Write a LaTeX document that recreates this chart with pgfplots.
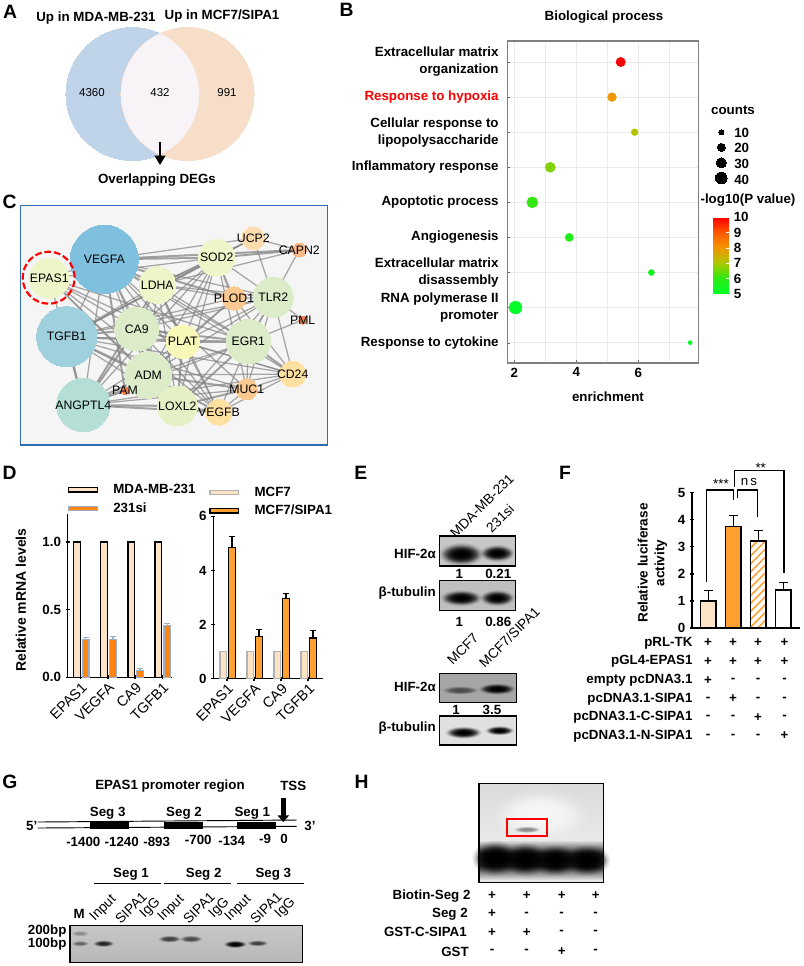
\documentclass[border=0pt]{standalone}
\usepackage{fontspec}
\setmainfont{Liberation Sans}
\usepackage{pgfplots}
\pgfplotsset{compat=1.18}
\usetikzlibrary{arrows.meta,fadings,patterns.meta}

\definecolor{vennblue}{HTML}{BFD3E9}
\definecolor{vennpeach}{HTML}{F6DEC8}
\definecolor{vennmid}{HTML}{F7F3F6}
\definecolor{framec}{HTML}{2E6DB4}
\definecolor{pale}{HTML}{FDE3C6}
\definecolor{orng}{HTML}{FF8410}
\definecolor{orng2}{HTML}{FFA030}
\definecolor{bluegray}{HTML}{9DB0C8}
\definecolor{nVEGFA}{HTML}{7FC0DE}
\definecolor{nTGF}{HTML}{9FD0DE}
\definecolor{nANG}{HTML}{B5DFD6}
\definecolor{nY}{HTML}{EEF5C8}
\definecolor{nG}{HTML}{DCEBC8}
\definecolor{nX}{HTML}{E5F0C5}
\definecolor{nP}{HTML}{F7F7B8}
\definecolor{nU}{HTML}{FDDDB0}
\definecolor{nN}{HTML}{F8B888}
\definecolor{nO}{HTML}{FBC890}
\definecolor{nS}{HTML}{F08050}
\definecolor{nK}{HTML}{FEE0A0}

\newcommand\fb{\fontsize{10}{12.7}\selectfont\bfseries}
\newcommand\fr{\fontsize{10}{12.7}\selectfont}
\newcommand\fn{\fontsize{9.2}{11}\selectfont}
% text helpers, canvas pixels
\newcommand\tb[3]{\node[font=\fb,inner sep=0pt] at (axis cs:#1,#2) {#3};}
\newcommand\te[3]{\node[font=\fb,inner sep=0pt,anchor=east] at (axis cs:#1,#2) {#3};}
\newcommand\tl[3]{\node[font=\fb,inner sep=0pt,anchor=west] at (axis cs:#1,#2) {#3};}
\newcommand\letter[3]{\node[font=\fontsize{14.5}{16}\selectfont\bfseries,inner sep=0pt] at (axis cs:#1,#2) {#3};}
\newcommand\rot[3]{\node[font=\fontsize{10.3}{12}\selectfont,inner sep=0pt,rotate=45,anchor=south west] at (axis cs:#1,#2) {#3};}
% blots
\tikzfading[name=fz,inner color=transparent!0,outer color=transparent!100]
\newcommand\blot[5]{\fill[#5] (axis cs:#1,#2) rectangle (axis cs:#3,#4);}
\newcommand\blotframe[4]{\draw[black,line width=1pt] (axis cs:#1,#2) rectangle (axis cs:#3,#4);}
\newcommand\band[5]{%
  \fill[#5,path fading=fz] (axis cs:#1,#2) ellipse[x radius=#3*0.75pt,y radius=#4*0.75pt];
  \fill[#5,path fading=fz] (axis cs:#1,#2) ellipse[x radius=#3*0.66pt,y radius=#4*0.6pt];
  \fill[#5,path fading=fz] (axis cs:#1,#2) ellipse[x radius=#3*0.6pt,y radius=#4*0.5pt];}
\newcommand\keydot[3]{\addplot[only marks,mark=*,mark size=#3,mark options={fill=black,draw=black,line width=0pt}] coordinates {(#1,#2)};}

\def\nodelist{V/VEGFA/104.3/259.3/34/nVEGFA,E/EPAS1/49.3/278.3/20/nY,T/TGFB1/66.7/336.7/30/nTGF,A/ANGPTL4/83.3/405/26.7/nANG,L/LDHA/157.3/285/18.3/nY,C/CA9/136.7/329/22/nG,D/ADM/148.3/375/23.3/nG,Z/PAM/125/390.7/4/nS,X/LOXL2/177.3/406/20/nX,P/PLAT/182.7/341.7/16.7/nP,G/EGR1/248.3/341.7/22.3/nG,S/SOD2/216.7/257.7/18.3/nY,U/UCP2/253.3/238.3/11.5/nU,N/CAPN2/299.3/250/7/nN,R/TLR2/273.3/297.3/20/nG,O/PLOD1/234/298.3/11.7/nO,M/PML/302.7/320/4/nS,K/CD24/292.7/374/13/nK,Q/MUC1/246.7/389.3/10.5/nO,B/VEGFB/219/412.3/13/nK}
\foreach \k/\n/\x/\y/\r/\c in \nodelist {\expandafter\xdef\csname nd\k\endcsname{\x,\y}}

\pgfplotstableread{
x y logp d
5.43 8 10 9.3
5.15 7 8 8.7
5.88 6 7.1 6.7
3.16 5 6.7 10
2.58 4 6.1 11
3.77 3 5.8 8
6.42 2 5.4 6
2.04 1 5.1 12.7
7.67 0 5.0 4
}\bubbles

\pgfplotsset{canvas/.style={at={(0pt,0pt)},anchor=north west,scale only axis,width=602.25pt,height=724.5pt,
    xmin=0,xmax=803,ymin=0,ymax=966,y dir=reverse,hide axis,clip=false},
  barpanel/.style={scale only axis,axis lines=left,axis line style={-,line width=1pt},
  tick style={black,line width=1pt},major tick length=3pt,ymin=0,
  tick label style={font=\fb,/pgf/number format/assume math mode=true},
  legend image code/.code={\draw[##1] (0pt,-1.6pt) rectangle (21.5pt,1.6pt);},
  legend cell align=left,
  legend style={draw=none,fill=none,font=\fb,inner sep=0pt,row sep=1.2pt,
     /tikz/every even column/.append style={column sep=0pt}}},
  fbar/.style={ybar,bar width=11.5pt,bar shift=0pt,draw=black,line width=1pt,
    error bars/y dir=plus,error bars/y explicit,error bars/error bar style={black,line width=1pt},
    error bars/error mark options={rotate=90,mark size=3.4pt,black,line width=0.8pt}}}

\begin{document}
\begin{tikzpicture}
\path[use as bounding box] (0pt,0pt) rectangle (602.25pt,-724.5pt);

% lower canvas in reference pixels: venn circles, network
\begin{axis}[canvas]
\addplot[only marks,mark=*,mark size=49.9pt,mark options={fill=vennblue,draw=vennblue,line width=0pt}] coordinates {(132.5,94)};
\addplot[only marks,mark=*,mark size=49.9pt,mark options={fill=vennpeach,draw=vennpeach,line width=0pt}] coordinates {(187.5,94)};
\fill[black!4] (axis cs:20.7,205.7) rectangle (axis cs:327.7,445);
\foreach \a/\b in {V/E,V/T,V/A,V/C,V/D,V/X,V/P,V/G,V/U,V/R,V/K,V/Q,V/B,E/S,E/A,E/C,E/D,E/X,E/P,E/G,E/B,T/L,T/X,T/G,T/U,T/R,T/K,T/Q,T/B,T/O,A/P,A/G,A/S,A/Q,A/K,L/U,L/N,L/R,L/O,L/D,L/X,L/G,L/B,C/R,C/S,C/X,C/B,C/K,D/G,D/R,D/S,D/O,D/K,D/B,X/R,P/R,P/S,P/B,P/O,P/K,G/S,G/Q,G/B,S/U,S/R,S/O,S/Q,S/X,R/U,R/N,R/M,R/K,R/Q,R/O,U/N,O/K,G/M,K/Q,K/B,Q/B}
 {\edef\tmp{\noexpand\addplot[black!48,opacity=0.7,line width=0.95pt] coordinates {(\csname nd\a\endcsname) (\csname nd\b\endcsname)};}\tmp}
\foreach \a/\b in {V/L,V/S,V/N,V/O,T/A,T/C,T/D,T/P,T/S,A/C,A/D,A/X,A/B,A/L,L/S,L/C,L/P,C/D,C/P,C/G,D/P,D/X,D/Q,X/P,X/G,X/Q,X/B,P/G,G/R,G/K,S/N,Z/A,Z/V}
 {\edef\tmp{\noexpand\addplot[black!48,opacity=0.75,line width=1.5pt] coordinates {(\csname nd\a\endcsname) (\csname nd\b\endcsname)};}\tmp}
\foreach \k/\n/\x/\y/\r/\c in \nodelist
 {\pgfmathsetmacro\ms{\r*0.75}\edef\tmp{\noexpand\addplot[only marks,mark=*,mark size=\ms pt,mark options={fill=\c,draw=\c,line width=0pt}] coordinates {(\x,\y)};}\tmp}
\end{axis}

% upper canvas: overlap, texts, blots, schematic
\begin{axis}[canvas]
% A
\letter{10}{12}{A}
\begin{scope}
\clip (axis cs:132.5,94) circle[radius=49.9pt];
\fill[vennmid] (axis cs:187.5,94) circle[radius=49.9pt];
\end{scope}
\tb{96}{18}{Up in MDA-MB-231}
\tb{222}{16}{Up in MCF7/SIPA1}
\node[font=\fontsize{8.6}{10}\selectfont] at (axis cs:92,93) {4360};
\node[font=\fontsize{8.6}{10}\selectfont] at (axis cs:160,93) {432};
\node[font=\fontsize{8.6}{10}\selectfont] at (axis cs:227,93) {991};
\draw[-{Triangle[length=7pt,width=8pt]},line width=1.6pt] (axis cs:160,142) -- (axis cs:160,165);
\tb{157}{180}{Overlapping DEGs}

% B labels beside the axis
\letter{346.7}{10}{B}
\tb{733}{110}{counts}
\keydot{721.3}{132.3}{1.8pt}
\keydot{721.3}{147.3}{3pt}
\keydot{721.3}{162.7}{3.8pt}
\keydot{721.3}{178}{4.4pt}
\tl{734}{132.5}{10}
\tl{734}{148}{20}
\tl{734}{164}{30}
\tl{734}{180}{40}
\tb{748}{200}{-log10(P value)}

% C
\letter{9.5}{202}{C}
\foreach \k/\n/\x/\y/\r/\c in \nodelist
 {\edef\tmp{\noexpand\node[font=\noexpand\fn,inner sep=0pt] at (axis cs:\x,\y) {\n};}\tmp}
\draw[framec,line width=1pt] (axis cs:20.7,205.7) rectangle (axis cs:327.7,445);
\draw[red,dash pattern=on 5pt off 2.2pt,line width=1.6pt] (axis cs:48.7,277.7) circle[radius=19.5pt];

% D
\letter{9.5}{473}{D}

% E
\letter{360.7}{473}{E}
\rot{456}{539}{MDA-MB-231}
\rot{492}{534}{231si}
\te{436}{553.7}{HIF-2α}
\blot{439.3}{536}{515.7}{566}{black!22}
\band{461}{554}{23}{12}{black}
\band{497}{553}{18}{9}{black}
\blotframe{439.3}{536}{515.7}{566}
\tb{459.3}{574}{1}
\tb{498.3}{574}{0.21}
\te{436}{593}{β-tubulin}
\blot{439.3}{580.7}{515.7}{610.7}{black!25}
\band{461}{597.7}{21.5}{8.5}{black}
\band{497}{597.7}{18}{8.5}{black}
\blotframe{439.3}{580.7}{515.7}{610.7}
\tb{459.3}{621.7}{1}
\tb{498.3}{621.7}{0.86}
\rot{453}{666}{MCF7}
\rot{485}{669}{MCF7/SIPA1}
\te{436}{686.7}{HIF-2α}
\blot{439.3}{673.3}{516.7}{702.7}{black!35}
\band{460}{690}{19}{4.5}{black!70}
\band{496.7}{688.7}{19}{6}{black}
\blotframe{439.3}{673.3}{516.7}{702.7}
\tb{456}{710}{1}
\tb{492}{710}{3.5}
\te{436}{727.7}{β-tubulin}
\blot{439.3}{716}{516.7}{745}{black!12}
\band{463.3}{732.3}{19}{6.5}{black}
\band{499.3}{730.3}{15}{5}{black}
\blotframe{439.3}{716}{516.7}{745}

% F labels
\letter{565}{473}{F}
\addplot[black,line width=1pt] coordinates {(706.7,581.7) (706.7,490) (733.3,490) (733.3,500)};
\addplot[black,line width=1pt] coordinates {(737.3,498.3) (737.3,490) (757.7,490) (757.7,516.7)};
\addplot[black,line width=1pt] coordinates {(734.3,486.7) (734.3,470.7) (784,470.7) (784,573.3)};
\node[font=\fr,inner sep=0pt] at (axis cs:721,483.5) {***};
\node[font=\fr,inner sep=0pt] at (axis cs:749,482) {n\,s};
\node[font=\fr,inner sep=0pt] at (axis cs:760.7,467.5) {**};
\newcommand\row[6]{\te{692.7}{#1}{#2}\tb{708}{#1}{#3}\tb{733}{#1}{#4}\tb{758}{#1}{#5}\tb{784.5}{#1}{#6}}
\row{643}{pRL-TK}{+}{+}{+}{+}
\row{661.3}{pGL4-EPAS1}{+}{+}{+}{+}
\row{680.3}{empty pcDNA3.1}{+}{-}{-}{-}
\row{699}{pcDNA3.1-SIPA1}{-}{+}{-}{-}
\row{717.3}{pcDNA3.1-C-SIPA1}{-}{-}{+}{-}
\row{736}{pcDNA3.1-N-SIPA1}{-}{-}{-}{+}

% G
\letter{10}{781.7}{G}
\tb{170}{786}{EPAS1 promoter region}
\tb{293.3}{786}{TSS}
\tb{107.7}{813}{Seg 3}
\tb{184}{813}{Seg 2}
\tb{252.3}{813}{Seg 1}
\addplot[black,line width=0.7pt] coordinates {(37.7,822) (296.7,820)};
\addplot[black,line width=0.7pt] coordinates {(37.7,828) (296.7,826.3)};
\fill[black] (axis cs:90,821.7) rectangle (axis cs:129,829);
\fill[black] (axis cs:164,821.7) rectangle (axis cs:203,829);
\fill[black] (axis cs:237,821.7) rectangle (axis cs:276,829);
\draw[-{Triangle[length=5pt,width=8.5pt]},line width=3.4pt] (axis cs:283.3,798) -- (axis cs:283.3,822);
\tb{31.7}{825.7}{5’}
\tb{310}{825.7}{3’}
\tb{83.3}{841.7}{-1400}
\tb{121.7}{841.7}{-1240}
\tb{156.7}{841.7}{-893}
\tb{198.3}{840}{-700}
\tb{231.7}{841}{-134}
\tb{265}{839}{-9}
\tb{284}{839}{0}
\tb{131}{874.7}{Seg 1}
\tb{203.7}{874.7}{Seg 2}
\tb{273.3}{874.7}{Seg 3}
\addplot[black,line width=0.7pt] coordinates {(94.3,883) (160.7,883)};
\addplot[black,line width=0.7pt] coordinates {(164.3,883) (230.7,883)};
\addplot[black,line width=0.7pt] coordinates {(237,883) (303.7,883)};
\tb{79.3}{914.3}{M}
\rot{97}{924}{Input}
\rot{121}{925}{SIPA1}
\rot{147}{921}{IgG}
\rot{165}{924}{Input}
\rot{189}{925}{SIPA1}
\rot{216}{921}{IgG}
\rot{232}{924}{Input}
\rot{256}{925}{SIPA1}
\rot{282}{921}{IgG}
\te{66.7}{930.7}{200bp}
\te{66.7}{944.3}{100bp}
\shade[top color=black!22,bottom color=black!28] (axis cs:70,925.3) rectangle (axis cs:302.7,962.3);
\band{80}{933.3}{9}{3}{black!45}
\band{80}{943.3}{9}{3}{black!60}
\band{103.3}{943.3}{11}{3.6}{black!85}
\band{169.3}{938.7}{12}{3.8}{black!75}
\band{190.7}{938.7}{12}{3.8}{black!70}
\band{235}{944}{12}{4}{black}
\band{257.3}{943}{11}{3.2}{black!75}
\blotframe{70}{925.3}{302.7}{962.3}

% H
\letter{361.7}{781.7}{H}
\shade[top color=black!14,bottom color=black!9] (axis cs:479,783.7) rectangle (axis cs:603.3,840);
\fill[black!9] (axis cs:479,840) rectangle (axis cs:603.3,882.3);
\band{540}{815}{50}{28}{black!3}
\shade[top color=black!9,bottom color=black!80] (axis cs:480,840) rectangle (axis cs:602.5,853);
\fill[black!80] (axis cs:480,853) rectangle (axis cs:602.5,866);
\shade[top color=black!80,bottom color=black!10] (axis cs:480,866) rectangle (axis cs:602.5,880);
\band{495}{858}{24}{18}{black}
\band{525}{859}{24}{17}{black}
\band{555}{860}{24}{16}{black}
\band{586.7}{860}{24}{16}{black}
\band{526.7}{829.3}{14}{3.5}{black!45}
\blotframe{479}{783.7}{603.3}{882.3}
\draw[red,line width=1.3pt] (axis cs:506.7,819.3) rectangle (axis cs:546.7,836.3);
\newcommand\rowh[7]{\te{#2}{#1}{#3}\tb{492}{#1}{#4}\tb{526.7}{#1}{#5}\tb{561.7}{#1}{#6}\tb{595.7}{#1}{#7}}
\rowh{896}{470.7}{Biotin-Seg 2}{+}{+}{+}{+}
\rowh{914}{468}{Seg 2}{+}{-}{-}{-}
\rowh{932.3}{467}{GST-C-SIPA1}{+}{+}{-}{-}
\rowh{951.5}{469}{GST}{-}{-}{+}{-}
\end{axis}

% B bubble plot
\begin{axis}[at={(380.5pt,-272.25pt)},anchor=south west,scale only axis,width=143.25pt,height=241.5pt,
  xmin=1.774,xmax=7.935,ymin=-0.58,ymax=8.6,
  axis line style={black!50,line width=0.8pt},
  xtick={2,4,6},minor xtick={3,5,7},ytick={0,...,8},
  grid=both,grid style={black!8,line width=0.6pt},minor grid style={black!8,line width=0.6pt},
  xtick pos=lower,ytick pos=lower,major tick length=2pt,tick style={black!60},minor tick length=0pt,
  tick label style={font=\fb,/pgf/number format/assume math mode=true},
  yticklabel style={align=right,font=\fb,xshift=-3pt},
  yticklabels={Response to cytokine,{RNA polymerase II\\promoter},{Extracellular matrix\\disassembly},Angiogenesis,Apoptotic process,Inflammatory response,{Cellular response to\\lipopolysaccharide},\textcolor{red}{Response to hypoxia},{Extracellular matrix\\organization}},
  xlabel=enrichment,xlabel style={font=\fb,at={(axis description cs:0.527,-0.106)},anchor=center},
  title=Biological process,title style={font=\fb,at={(axis description cs:0.506,1.05)},anchor=center},
  colormap={hm}{rgb255=(0,255,40) rgb255=(40,235,20) rgb255=(170,200,0) rgb255=(240,150,0) rgb255=(255,90,0) rgb255=(255,0,0)},
  point meta min=5,point meta max=10,
  colorbar,colorbar style={at={(1.0785,0.4525)},anchor=north west,width=11.8pt,height=57.5pt,
    ytick={5,...,10},ytick pos=right,yticklabel pos=right,axis line style={draw=none},
    tick style={white,line width=0.5pt},major tick length=2pt,tick align=inside,
    yticklabel style={font=\fb,/pgf/number format/assume math mode=true}},
  clip=false]
\addplot[scatter,only marks,mark=*,point meta=explicit,
  visualization depends on={\thisrow{d}*0.375 \as \perpoint},
  scatter/use mapped color={draw=mapped color,fill=mapped color},
  scatter/@pre marker code/.append style={/tikz/mark size=\perpoint}]
  table[x=x,y=y,meta=logp] {\bubbles};
\end{axis}

% D left
\begin{axis}[barpanel,at={(50.8pt,-508pt)},anchor=south west,width=78.2pt,height=122.5pt,
  xmin=-0.478,xmax=3.36,ymax=1.207,ytick={0,0.5,1},
  /pgf/number format/fixed,/pgf/number format/fixed zerofill,/pgf/number format/precision=1,
  xtick={0,1,2,3},xticklabels={EPAS1,VEGFA,CA9,TGFB1},
  xticklabel style={font=\fontsize{10.8}{12}\selectfont,rotate=45,anchor=north east,inner sep=1pt},
  ylabel=Relative mRNA levels,ylabel style={font=\fontsize{10.5}{12}\selectfont\bfseries,at={(axis description cs:-0.45,0.473)},anchor=center},
  legend style={at={(0,1.2)},anchor=north west},clip=false]
\addplot[ybar,bar width=5pt,bar shift=-2.8pt,fill=pale,draw=black,line width=1pt] coordinates {(0,1) (1,1) (2,1) (3,1)};
\addlegendentry{\hspace{9.5pt}MDA-MB-231}
\addplot[ybar,bar width=5pt,bar shift=3.8pt,fill=orng,draw=bluegray,line width=1pt,
  error bars/.cd,y dir=plus,y explicit,error bar style={bluegray,line width=1pt,xshift=3.8pt},error mark options={rotate=90,mark size=2.2pt,bluegray,line width=0.8pt}]
  coordinates {(0,0.28) +- (0,0.015) (1,0.28) +- (0,0.025) (2,0.05) +- (0,0.012) (3,0.385) +- (0,0.01)};
\addlegendentry{\hspace{9.5pt}231si}
\end{axis}

% D right
\begin{axis}[barpanel,at={(160pt,-509pt)},anchor=south west,width=82pt,height=121.8pt,
  xmin=-0.507,xmax=3.54,ymax=6,ytick={0,2,4,6},
  xtick={0,1,2,3},xticklabels={EPAS1,VEGFA,CA9,TGFB1},
  xticklabel style={font=\fontsize{10.8}{12}\selectfont,rotate=45,anchor=north east,inner sep=1pt},
  legend style={at={(-0.04,1.2)},anchor=north west},clip=false]
\addplot[ybar,bar width=5pt,bar shift=-2.8pt,fill=pale,draw=black!30,line width=1pt] coordinates {(0,1) (1,1) (2,1) (3,1)};
\addlegendentry{\hspace{9.5pt}MCF7}
\addplot[ybar,bar width=5pt,bar shift=3.8pt,fill=orng2,draw=black,line width=1pt,
  error bars/.cd,y dir=plus,y explicit,error bar style={black,line width=1pt,xshift=3.8pt},error mark options={rotate=90,mark size=2.2pt,black,line width=0.8pt}]
  coordinates {(0,4.85) +- (0,0.39) (1,1.57) +- (0,0.25) (2,2.97) +- (0,0.18) (3,1.5) +- (0,0.28)};
\addlegendentry{\hspace{9.5pt}MCF7/SIPA1}
\end{axis}

% F
\begin{axis}[barpanel,at={(519pt,-471pt)},anchor=south west,width=81pt,height=101.5pt,
  xmin=-0.652,xmax=3.668,ymax=5,ytick={0,...,5},xtick=\empty,
  ylabel={Relative luciferase\\activity},ylabel style={font=\fontsize{10.2}{12.7}\selectfont\bfseries,align=center,at={(axis description cs:-0.366,0.48)},anchor=center},
  clip=false]
\addplot[fbar,fill=pale] coordinates {(0,1) +- (0,0.38)};
\addplot[fbar,fill=orng2] coordinates {(1,3.75) +- (0,0.4)};
\addplot[fbar,pattern={Lines[angle=45,distance=4.2pt,line width=1.2pt]},pattern color=orng2] coordinates {(2,3.22) +- (0,0.38)};
\addplot[fbar,pattern={Dots[distance=6pt,radius=0.3pt]},pattern color=orng2!50] coordinates {(3,1.4) +- (0,0.29)};
\end{axis}

\end{tikzpicture}
\end{document}
